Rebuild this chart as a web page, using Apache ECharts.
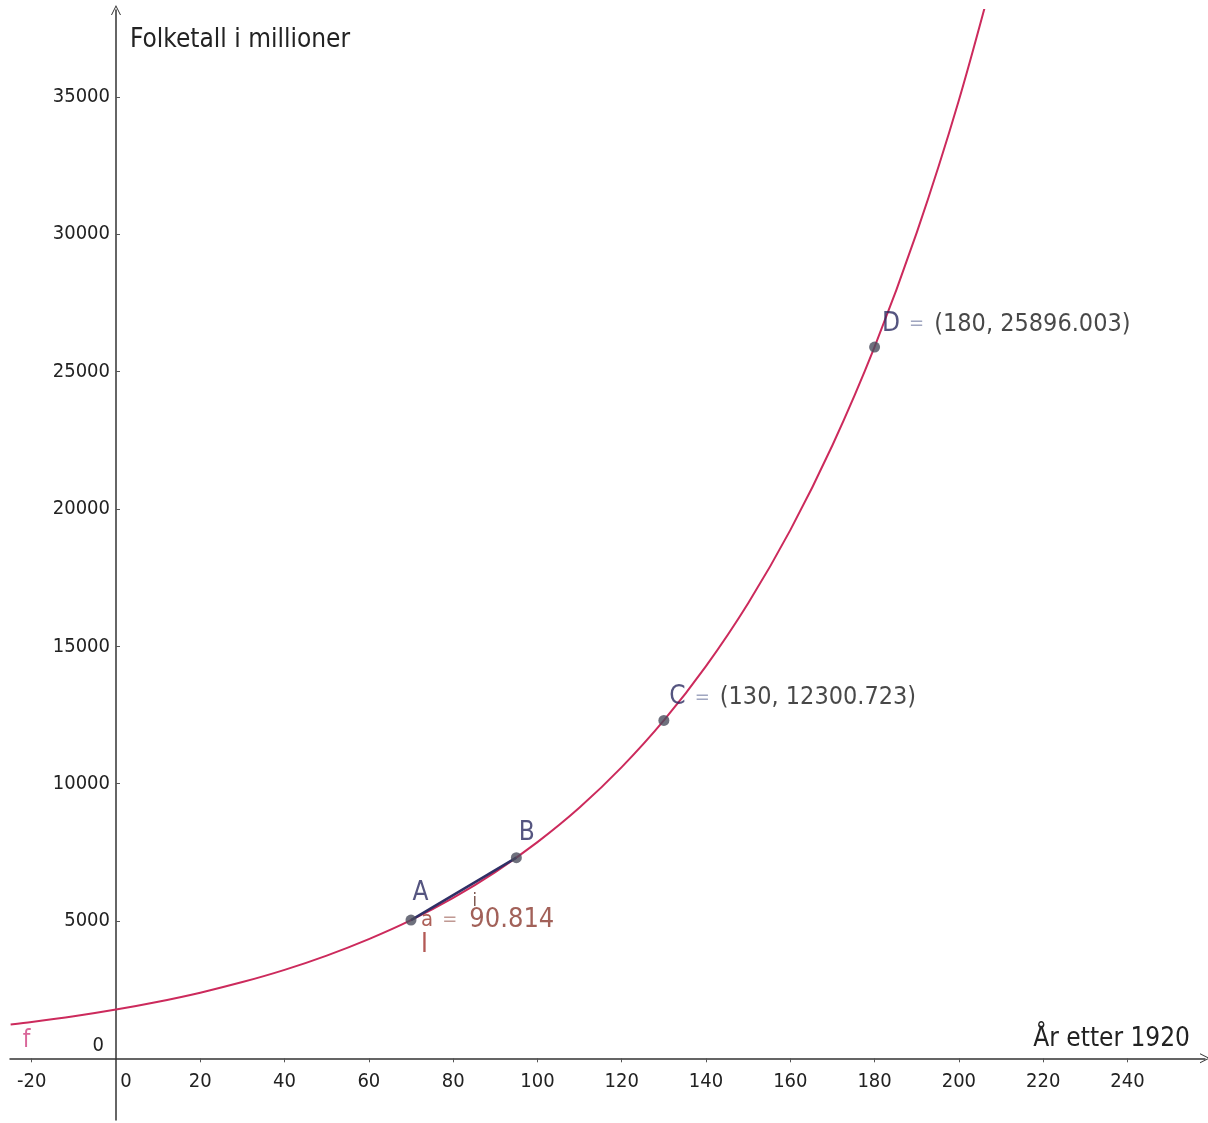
<!DOCTYPE html>
<html>
<head>
<meta charset="utf-8">
<script src="https://cdn.jsdelivr.net/npm/echarts@6/dist/echarts.min.js"></script>
<style>
  html, body { margin: 0; padding: 0; background: #fff; }
  #chart { width: 1208px; height: 1123px; }
</style>
</head>
<body>
<div id="chart"></div>
<script>
// kurve f: folketall (millioner) lest av bildet
const years = [-25, -20, -10, 0, 10, 20, 30, 40, 50, 60, 70, 80, 90, 100, 110, 120, 130, 140, 150, 160, 170, 180, 190, 200, 210];
const population = [1230, 1320, 1530, 1775, 2060, 2390, 2775, 3220, 3740, 4340, 5030, 5840, 6780, 7870, 9130, 10600, 12300, 14280, 16570, 19230, 22320, 25900, 30060, 34880, 40480];

// punktene A, B, C, D
const pointNames = ['A', 'B', 'C', 'D'];
const pointX = [70, 95, 130, 180];
const pointY = [5033, 7304, 12300.723, 25896.003];
const showCoords = [false, false, true, true];

// stigningstall mellom A og B
const slopeName = 'a';
const slopeValue = '90.814';

const xTicks = [-20, 0, 20, 40, 60, 80, 100, 120, 140, 160, 180, 200, 220, 240];
const yTicks = [0, 5000, 10000, 15000, 20000, 25000, 30000, 35000];

const X_MIN = -25.15, X_MAX = 258.4;
const Y_MIN = -2246, Y_MAX = 38166;

const FONT = "'DejaVu Sans Condensed', 'Liberation Sans Narrow', 'DejaVu Sans', sans-serif";
const chevron = 'path://M0,10 L5,0 L10,10 L9,10 L5,2 L1,10 Z';

const chart = echarts.init(document.getElementById('chart'));

const labelOffsets = [[-4, -27], [-3, -24], [0, -23], [2, -23]];
const hidden = { show: false };

// grid 0 tegner aksene (onZero), grid 1 og 2 bare tallene langs aksene
const option = {
  animation: false,
  backgroundColor: '#fff',
  grid: [
    { left: 10, right: 3, top: 10, bottom: 3, containLabel: false, outerBoundsMode: 'none' },
    { left: 10, right: 3, top: 10, bottom: 65, containLabel: false, outerBoundsMode: 'none' },
    { left: 116, right: 3, top: 10, bottom: 3, containLabel: false, outerBoundsMode: 'none' }
  ],
  xAxis: [
    {
      type: 'value', gridIndex: 0, min: X_MIN, max: X_MAX,
      name: 'År etter 1920',
      nameLocation: 'end',
      nameGap: -15,
      nameTextStyle: {
        fontFamily: FONT, fontSize: 26, color: '#222',
        align: 'right', verticalAlign: 'bottom', padding: [0, 0, 6, 0]
      },
      axisLine: {
        onZero: true,
        symbol: ['none', chevron],
        symbolSize: [10, 12],
        lineStyle: { color: '#333', width: 1.5 }
      },
      axisTick: { customValues: xTicks.filter(v => v !== 0), length: 4, lineStyle: { color: '#555' } },
      axisLabel: hidden,
      splitLine: hidden
    },
    {
      type: 'value', gridIndex: 1, min: X_MIN, max: X_MAX, position: 'bottom',
      axisLine: hidden, axisTick: hidden, splitLine: hidden,
      axisLabel: {
        customValues: xTicks,
        margin: 14,
        fontFamily: FONT, fontSize: 20, color: '#222',
        formatter: v => v === 0 ? '{z|0}' : String(v),
        rich: { z: { fontFamily: FONT, fontSize: 20, color: '#222', padding: [0, 0, 0, 20] } }
      }
    },
    { type: 'value', gridIndex: 2, min: X_MIN, max: X_MAX, show: false }
  ],
  yAxis: [
    {
      type: 'value', gridIndex: 0, min: Y_MIN, max: Y_MAX,
      name: 'Folketall i millioner',
      nameLocation: 'end',
      nameGap: -30,
      nameTextStyle: {
        fontFamily: FONT, fontSize: 26, color: '#222',
        align: 'left', verticalAlign: 'middle', padding: [0, 0, 0, 14]
      },
      axisLine: {
        onZero: true,
        symbol: ['none', chevron],
        symbolSize: [10, 12],
        lineStyle: { color: '#333', width: 1.5 }
      },
      axisTick: { customValues: yTicks.filter(v => v !== 0), inside: true, length: 4, lineStyle: { color: '#555' } },
      axisLabel: hidden,
      splitLine: hidden
    },
    { type: 'value', gridIndex: 1, min: Y_MIN, max: Y_MAX, show: false },
    {
      type: 'value', gridIndex: 2, min: Y_MIN, max: Y_MAX, position: 'left',
      axisLine: hidden, axisTick: hidden, splitLine: hidden,
      axisLabel: {
        customValues: yTicks,
        margin: 6,
        fontFamily: FONT, fontSize: 20, color: '#222',
        formatter: v => v === 0 ? '{z|0}' : String(v),
        rich: { z: { fontFamily: FONT, fontSize: 20, color: '#222', padding: [0, 6, 26, 0] } }
      }
    }
  ],
  series: [
    {
      name: 'f',
      type: 'line',
      smooth: 0.3,
      showSymbol: false,
      clip: true,
      data: years.map((x, i) => [x, population[i]]),
      lineStyle: { color: '#cc2a5c', width: 2 },
      z: 2
    },
    {
      name: 'i',
      type: 'line',
      showSymbol: false,
      data: [[pointX[0], pointY[0]], [pointX[1], pointY[1]]],
      lineStyle: { color: '#2f2f66', width: 2.5 },
      z: 3
    },
    {
      name: 'punkter',
      type: 'scatter',
      symbolSize: 11,
      itemStyle: { color: '#4a4c5c' },
      z: 4,
      data: pointX.map((x, i) => ({
        value: [x, pointY[i]],
        label: {
          show: true,
          position: 'right',
          distance: 0,
          offset: labelOffsets[i],
          formatter: showCoords[i]
            ? `{n|${pointNames[i]}}{e|=}{v|(${x}, ${pointY[i].toFixed(3)})}`
            : `{n|${pointNames[i]}}`,
          rich: {
            n: { fontFamily: FONT, fontSize: 26, color: '#2a2a60' },
            e: { fontFamily: FONT, fontSize: 20, color: '#8890b0', padding: [0, 10, 0, 9] },
            v: { fontFamily: FONT, fontSize: 25, color: '#1a1a1a' }
          }
        }
      }))
    },
    {
      name: 'tekst',
      type: 'scatter',
      symbolSize: 0,
      silent: true,
      z: 5,
      data: [
        { value: [72.4, 5027], label: { show: true, position: 'right', distance: 0,
          formatter: `{a|${slopeName}}{e|=}{b|${slopeValue}}`,
          rich: {
            a: { fontFamily: FONT, fontSize: 22, color: '#9a3a30' },
            e: { fontFamily: FONT, fontSize: 20, color: '#b08078', padding: [0, 12, 0, 9] },
            b: { fontFamily: FONT, fontSize: 27, color: '#8b3a30' }
          } } },
        { value: [72.4, 4117], label: { show: true, position: 'right', distance: 0,
          formatter: 'I', fontFamily: FONT, fontSize: 26, color: '#a0302a' } },
        { value: [84.6, 5700], label: { show: true, position: 'right', distance: 0,
          formatter: 'i', fontFamily: FONT, fontSize: 18, color: '#5a2a20' } },
        { value: [-22.1, 656], label: { show: true, position: 'right', distance: 0,
          formatter: 'f', fontFamily: FONT, fontSize: 24, color: '#d04080' } }
      ]
    }
  ]
};

chart.setOption(option);
window.onresize = function () {
  chart.resize();
};
</script>
</body>
</html>
